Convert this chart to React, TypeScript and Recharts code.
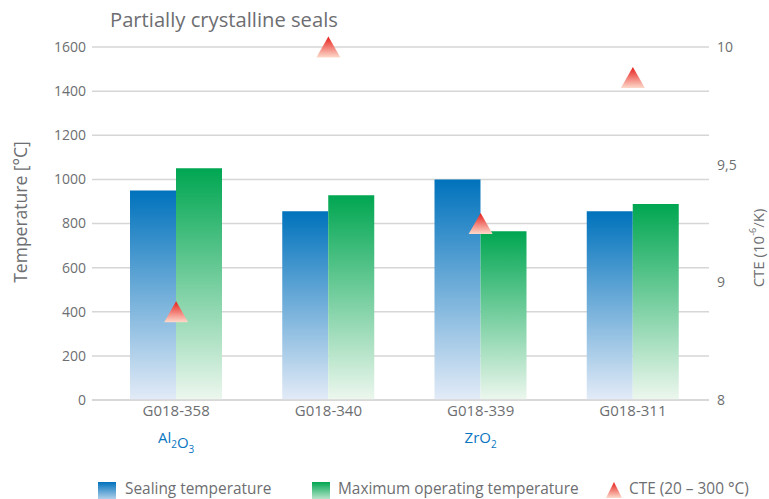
import React from "react";
import { ComposedChart, Bar, Line, XAxis, YAxis, CartesianGrid } from "recharts";

const categories = ["G018-358", "G018-340", "G018-339", "G018-311"];
const fillerLabels = ["Al2O3", "", "ZrO2", ""];
const sealingTemp = [950, 855, 1000, 855];
const maxOperatingTemp = [1050, 928, 765, 888];
const cteValues = [8.75, 10.0, 9.25, 9.87];

const tempTicks = [0, 200, 400, 600, 800, 1000, 1200, 1400, 1600];
const cteBreaks = [8, 9, 9.5, 10];
const cteTickLabels = ["8", "9", "9,5", "10"];

const title = "Partially crystalline seals";
const leftAxisLabel = "Temperature [°C]";
const legendLabels = ["Sealing temperature", "Maximum operating temperature", "CTE (20 – 300 °C)"];

const TEXT = "#6d6e71";
const GRID = "#d6d6d6";
const FONT = "'Open Sans', Lato, sans-serif";

// broken right axis: each segment between break values takes one equal step
const ctePos = (v: number) => {
  for (let i = 0; i < cteBreaks.length - 1; i++) {
    const a = cteBreaks[i];
    const b = cteBreaks[i + 1];
    if (v <= b || i === cteBreaks.length - 2) return i + (v - a) / (b - a);
  }
  return 0;
};

const data = categories.map((name, i) => ({
  name,
  filler: fillerLabels[i],
  sealing: sealingTemp[i],
  maxOp: maxOperatingTemp[i],
  cte: ctePos(cteValues[i]),
}));

const renderFormula = (s: string) => {
  const parts: React.ReactNode[] = [];
  const re = /([A-Za-z]+)(\d*)/g;
  let m: RegExpExecArray | null;
  let k = 0;
  while ((m = re.exec(s))) {
    parts.push(<tspan key={k++}>{m[1]}</tspan>);
    if (m[2]) {
      parts.push(
        <tspan key={k++} dy={5} fontSize={10}>
          {m[2]}
        </tspan>
      );
      parts.push(<tspan key={k++} dy={-5}></tspan>);
    }
  }
  return parts;
};

const CategoryTick = (props: any) => {
  const { x, y, payload, index } = props;
  const filler = fillerLabels[index] ?? "";
  return (
    <g>
      <text x={x} y={y + 16} textAnchor="middle" fill={TEXT} fontSize={15} fontFamily={FONT}>
        {payload.value}
      </text>
      {filler ? (
        <text x={x} y={y + 43} textAnchor="middle" fill="#0a76c2" fontSize={15} fontFamily={FONT}>
          {renderFormula(filler)}
        </text>
      ) : null}
    </g>
  );
};

const TriangleDot = (props: any) => {
  const { cx, cy } = props;
  if (cx == null || cy == null) return null;
  const w = 12;
  const h = 10.5;
  return (
    <polygon
      points={`${cx},${cy - h} ${cx - w},${cy + h} ${cx + w},${cy + h}`}
      fill="url(#triGrad)"
    />
  );
};

export default function App() {
  return (
    <div style={{ position: "absolute", left: 0, top: 0, width: 769, height: 499, background: "#fff", overflow: "hidden" }}>
      <svg width={0} height={0} style={{ position: "absolute" }}>
        <defs>
          <linearGradient id="blueGrad" x1="0" y1="0" x2="0" y2="1">
            <stop offset="0%" stopColor="#0072bc" />
            <stop offset="100%" stopColor="#e3ebf7" />
          </linearGradient>
          <linearGradient id="greenGrad" x1="0" y1="0" x2="0" y2="1">
            <stop offset="0%" stopColor="#00a651" />
            <stop offset="100%" stopColor="#edf7ee" />
          </linearGradient>
          <linearGradient id="triGrad" x1="0" y1="0" x2="0" y2="1">
            <stop offset="0%" stopColor="#e61e1b" />
            <stop offset="100%" stopColor="#fddacb" />
          </linearGradient>
        </defs>
      </svg>
      <ComposedChart
        width={769}
        height={499}
        data={data}
        margin={{ top: 47, right: 0, bottom: 0, left: 0 }}
        barGap={0}
      >
        <CartesianGrid yAxisId="left" vertical={false} stroke={GRID} strokeWidth={1.5} />
        <XAxis
          dataKey="name"
          height={99}
          padding={{ left: 8, right: 0 }}
          tickLine={false}
          tickSize={0}
          tickMargin={0}
          axisLine={{ stroke: GRID, strokeWidth: 1.5 }}
          tick={<CategoryTick />}
          interval={0}
        />
        <YAxis
          yAxisId="left"
          width={92}
          domain={[0, 1600]}
          ticks={tempTicks}
          axisLine={false}
          tickLine={false}
          tickSize={0}
          tickMargin={6}
          tick={{ fill: TEXT, fontSize: 14, fontFamily: FONT }}
          label={(p: any) => (
            <text
              x={20}
              y={212}
              transform="rotate(-90 20 212)"
              textAnchor="middle"
              dominantBaseline="central"
              fill={TEXT}
              fontSize={17.5}
              fontFamily={FONT}
            >
              {leftAxisLabel}
            </text>
          )}
        />
        <YAxis
          yAxisId="right"
          orientation="right"
          width={60}
          domain={[0, cteBreaks.length - 1]}
          ticks={cteBreaks.map((_, i) => i)}
          tickFormatter={(v: number) => cteTickLabels[v] ?? ""}
          axisLine={false}
          tickLine={false}
          tickSize={0}
          tickMargin={8}
          tick={{ fill: TEXT, fontSize: 14, fontFamily: FONT }}
          label={(p: any) => (
            <text
              x={758}
              y={248}
              transform="rotate(-90 758 248)"
              textAnchor="middle"
              dominantBaseline="central"
              fill={TEXT}
              fontSize={15}
              fontFamily={FONT}
            >
              CTE (10
              <tspan dy={-6} fontSize={9}>-6</tspan>
              <tspan dy={6}>/K)</tspan>
            </text>
          )}
        />
        <Bar yAxisId="left" dataKey="sealing" barSize={46} fill="url(#blueGrad)" isAnimationActive={false} />
        <Bar yAxisId="left" dataKey="maxOp" barSize={46} fill="url(#greenGrad)" isAnimationActive={false} />
        <Line
          yAxisId="right"
          dataKey="cte"
          stroke="none"
          dot={<TriangleDot />}
          activeDot={false}
          legendType="none"
          isAnimationActive={false}
        />
      </ComposedChart>
      <svg width={769} height={499} style={{ position: "absolute", left: 0, top: 0, pointerEvents: "none" }}>
        <text x={110} y={27} fill={TEXT} fontSize={20.2} fontFamily={FONT}>
          {title}
        </text>
        <rect x={98} y={482} width={18} height={22} fill="url(#blueGrad)" />
        <text x={125} y={494} fill={TEXT} fontSize={15.4} fontFamily={FONT}>
          {legendLabels[0]}
        </text>
        <rect x={312} y={482} width={18} height={22} fill="url(#greenGrad)" />
        <text x={338} y={494} fill={TEXT} fontSize={15.4} fontFamily={FONT}>
          {legendLabels[1]}
        </text>
        <polygon points="614,482 606,498 622,498" fill="url(#triGrad)" />
        <text x={629} y={494} fill={TEXT} fontSize={15.4} fontFamily={FONT}>
          {legendLabels[2]}
        </text>
      </svg>
    </div>
  );
}
